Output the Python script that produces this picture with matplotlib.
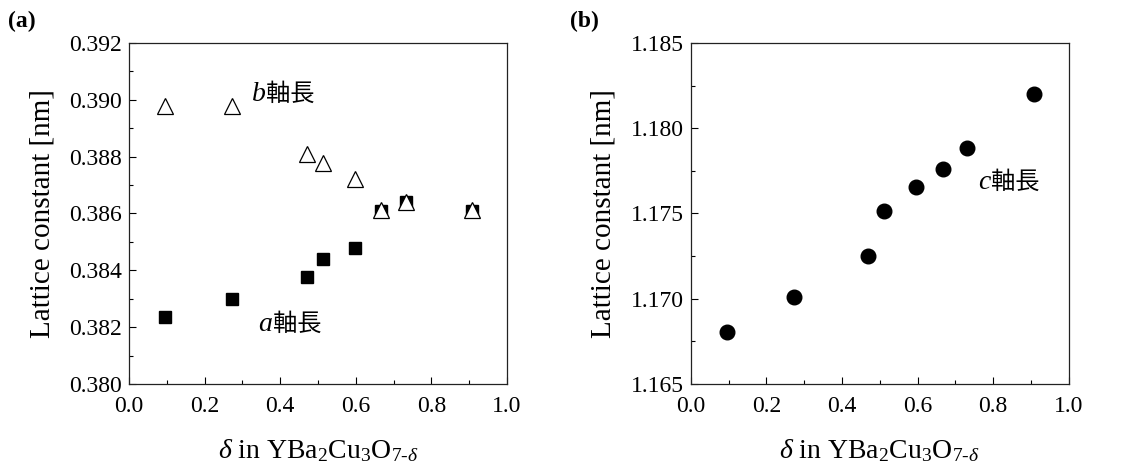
import matplotlib
matplotlib.use("Agg")
import matplotlib.pyplot as plt
from matplotlib.ticker import MultipleLocator, FormatStrFormatter

plt.rcParams['font.family'] = ['Liberation Serif', 'Noto Sans CJK JP']
plt.rcParams['mathtext.fontset'] = 'custom'
plt.rcParams['mathtext.rm'] = 'Liberation Serif'
plt.rcParams['mathtext.it'] = 'Liberation Serif:italic'
plt.rcParams['mathtext.bf'] = 'Liberation Serif:bold'

delta = [0.095, 0.272, 0.470, 0.512, 0.597, 0.667, 0.732, 0.908]
a_axis = [0.38235, 0.38298, 0.38376, 0.38439, 0.38478, 0.3861, 0.3864, 0.3861]
b_axis = [0.38977, 0.38977, 0.38810, 0.38777, 0.38721, 0.38611, 0.38640, 0.38611]
c_axis = [1.16807, 1.17009, 1.17248, 1.17516, 1.17653, 1.17762, 1.17884, 1.18201]

xlabel = r'$\delta$ in YBa$_2$Cu$_3$O$_{7\text{-}\delta}$'
ylabel = 'Lattice constant [nm]'
cjk_suffix = '軸長'

DPI = 100
fig = plt.figure(figsize=(11.3, 4.7), dpi=DPI)
axa = fig.add_axes([0.1142, 0.183, 0.3345, 0.7255])
axb = fig.add_axes([0.6113, 0.183, 0.3345, 0.7255])

for ax in (axa, axb):
    ax.set_xlim(0, 1.0)
    ax.xaxis.set_major_locator(MultipleLocator(0.2))
    ax.xaxis.set_minor_locator(MultipleLocator(0.1))
    ax.xaxis.set_major_formatter(FormatStrFormatter('%.1f'))
    ax.tick_params(which='both', direction='in', top=False, right=False,
                   labelsize=17, colors='black')
    ax.tick_params(which='major', length=5, width=0.8)
    ax.tick_params(which='minor', length=3, width=0.8)
    ax.tick_params(axis='x', pad=9)
    ax.tick_params(axis='y', pad=5)
    for s in ax.spines.values():
        s.set_linewidth(0.9)
        s.set_color('#222222')
    ax.set_xlabel(xlabel, fontsize=20, labelpad=14)
    ax.set_ylabel(ylabel, fontsize=21, labelpad=10)

# Panel (a)
axa.set_ylim(0.380, 0.392)
axa.yaxis.set_major_locator(MultipleLocator(0.002))
axa.yaxis.set_minor_locator(MultipleLocator(0.001))
axa.yaxis.set_major_formatter(FormatStrFormatter('%.3f'))
axa.plot(delta, a_axis, linestyle='none', marker='s', markersize=8.5,
         color='black', zorder=3)
axa.plot(delta, b_axis, linestyle='none', marker='^', markersize=11,
         markerfacecolor='white', markeredgecolor='black', markeredgewidth=0.9,
         zorder=4)

# Panel (b)
axb.set_ylim(1.165, 1.185)
axb.yaxis.set_major_locator(MultipleLocator(0.005))
axb.yaxis.set_minor_locator(MultipleLocator(0.0025))
axb.yaxis.set_major_formatter(FormatStrFormatter('%.3f'))
axb.plot(delta, c_axis, linestyle='none', marker='o', markersize=10.5,
         color='black', zorder=3)


def axis_label(ax, x, y, letter):
    t = ax.text(x, y, letter, fontsize=20, style='italic',
                family='Liberation Serif', va='baseline', ha='left')
    fig.canvas.draw()
    w = t.get_window_extent().width * 72.0 / DPI
    ax.annotate(cjk_suffix, xy=(x, y), xycoords='data',
                xytext=(w + 0.5, 0), textcoords='offset points',
                fontsize=17.5, family='Noto Sans CJK JP',
                va='baseline', ha='left')


axis_label(axa, 0.324, 0.38995, 'b')
axis_label(axa, 0.342, 0.38186, 'a')
axis_label(axb, 0.760, 1.17643, 'c')

fig.text(0.007, 0.955, '(a)', fontsize=17, fontweight='bold', va='center', ha='left')
fig.text(0.504, 0.955, '(b)', fontsize=17, fontweight='bold', va='center', ha='left')

fig.savefig('out.png', dpi=DPI, facecolor='white')
